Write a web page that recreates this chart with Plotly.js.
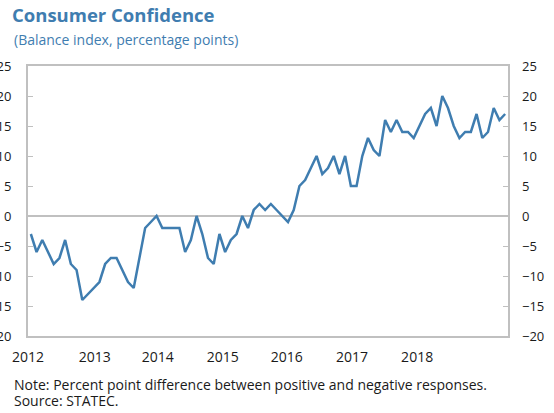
<!DOCTYPE html>
<html>
<head>
<meta charset="utf-8">
<script src="https://cdn.plot.ly/plotly-3.0.1.min.js"></script>
<style>html,body{margin:0;padding:0;background:#fff;}#chart{width:554px;height:413px;}</style>
</head>
<body>
<div id="chart"></div>
<script>
// Monthly data, Jan 2012 - Dec 2018
var confidence = [
  -3, -6, -4, -6, -8, -7, -4, -8, -9, -14, -13, -12,
  -11, -8, -7, -7, -9, -11, -12, -7, -2, -1, 0, -2,
  -2, -2, -2, -6, -4, 0, -3, -7, -8, -3, -6, -4,
  -3, 0, -2, 1, 2, 1, 2, 1, 0, -1, 1, 5,
  6, 8, 10, 7, 8, 10, 7, 10, 5, 5, 10, 13,
  11, 10, 16, 14, 16, 14, 14, 13, 15, 17, 18, 15,
  20, 18, 15, 13, 14, 14, 17, 13, 14, 18, 16, 17
];
var yearLabels = ['2012', '2013', '2014', '2015', '2016', '2017', '2018'];
var yearLabelMonths = [0, 11.7, 22.7, 34.1, 45.3, 56.7, 68.1];
var yearBoundaryMonths = [12, 24, 36, 48, 60, 72];
var yTicks = [-20, -15, -10, -5, 0, 5, 10, 15, 20, 25];

var xMonths = confidence.map(function (v, i) { return i + 0.5; });

var FONT = 'Open Sans, Noto Sans, sans-serif';
var BLUE = '#3f7db0';
var GRAY = '#c0c0c0';
var TEXT = '#1a1a1a';

var trace = {
  x: xMonths,
  y: confidence,
  type: 'scatter',
  mode: 'lines',
  line: {color: BLUE, width: 2.5},
  hoverinfo: 'skip',
  showlegend: false
};
var traceRight = {
  x: xMonths, y: confidence, xaxis: 'x', yaxis: 'y2',
  type: 'scatter', mode: 'lines', line: {color: 'rgba(0,0,0,0)', width: 0},
  hoverinfo: 'skip', showlegend: false
};

var layout = {
  width: 554, height: 413,
  margin: {l: 28, r: 46, t: 66, b: 77},
  paper_bgcolor: '#fff', plot_bgcolor: '#fff',
  font: {family: FONT, size: 13, color: TEXT},
  title: {
    text: '<b>Consumer Confidence</b>',
    font: {family: FONT, size: 18.5, color: BLUE},
    xref: 'container', x: 12 / 554, xanchor: 'left',
    yref: 'container', y: 1 - 9 / 413, yanchor: 'top'
  },
  xaxis: {
    range: [0, 84], tickmode: 'array',
    tickvals: yearLabelMonths, ticktext: yearLabels,
    ticks: '', showgrid: false, zeroline: false,
    showline: true, mirror: true, linecolor: GRAY, linewidth: 2,
    ticklabelstandoff: 7,
    tickfont: {family: FONT, size: 14, color: TEXT},
    fixedrange: true
  },
  xaxis2: {
    range: [0, 84], overlaying: 'x', anchor: 'free', position: 120 / 270,
    side: 'top', tickmode: 'array', tickvals: yearBoundaryMonths,
    ticks: 'outside', ticklen: 5, tickwidth: 1, tickcolor: GRAY,
    showticklabels: false, showgrid: false, zeroline: false, showline: false,
    fixedrange: true
  },
  yaxis: {
    range: [-20, 25], tickmode: 'array', tickvals: yTicks,
    ticks: 'inside', ticklen: 5, tickwidth: 1, tickcolor: GRAY, showgrid: false,
    zeroline: true, zerolinecolor: GRAY, zerolinewidth: 1.5,
    showline: true, mirror: true, linecolor: GRAY, linewidth: 2,
    ticklabelstandoff: 12,
    tickfont: {family: FONT, size: 13, color: TEXT},
    fixedrange: true
  },
  yaxis2: {
    range: [-20, 25], overlaying: 'y', side: 'right', matches: 'y',
    tickmode: 'array', tickvals: yTicks,
    ticks: 'inside', ticklen: 5, tickwidth: 1, tickcolor: GRAY, showgrid: false,
    zeroline: false, showline: false,
    ticklabelstandoff: 13,
    tickfont: {family: FONT, size: 13, color: TEXT},
    fixedrange: true
  },
  annotations: [
    {text: '(Balance index, percentage points)', xref: 'paper', yref: 'paper',
     x: -16 / 480, y: (336 - 39.5) / 270, xanchor: 'left', yanchor: 'middle',
     showarrow: false, font: {family: FONT, size: 14, color: BLUE}},
    {text: 'Note: Percent point difference between positive and negative responses.',
     xref: 'paper', yref: 'paper', x: -16 / 480, y: (336 - 384) / 270,
     xanchor: 'left', yanchor: 'middle', showarrow: false,
     font: {family: FONT, size: 14, color: TEXT}},
    {text: 'Source: STATEC.', xref: 'paper', yref: 'paper', x: -16 / 480, y: (336 - 400.5) / 270,
     xanchor: 'left', yanchor: 'middle', showarrow: false,
     font: {family: FONT, size: 14, color: TEXT}}
  ]
};

Plotly.newPlot('chart', [trace, traceRight], layout, {displayModeBar: false, staticPlot: true});
</script>
</body>
</html>
